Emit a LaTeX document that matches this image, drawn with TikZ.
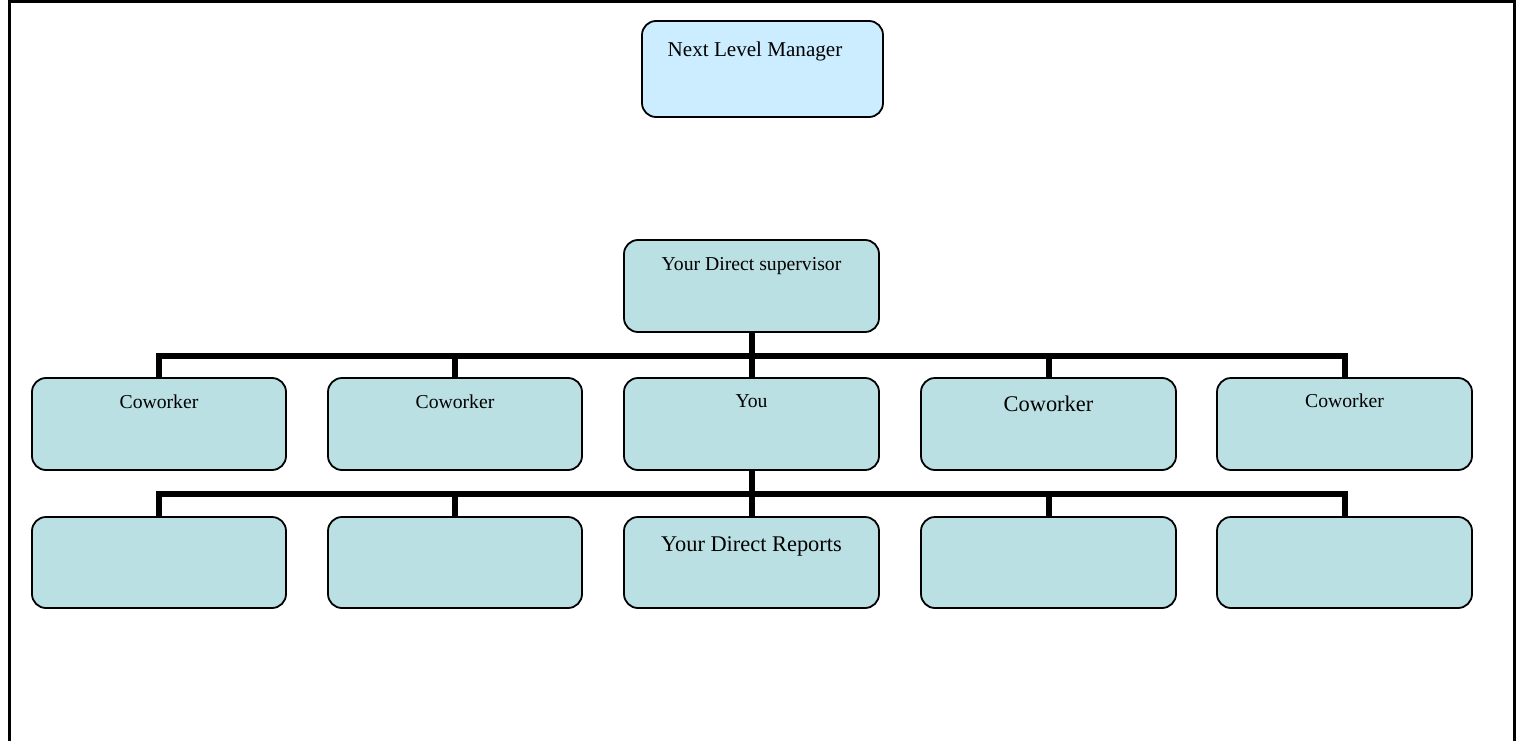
\documentclass[tikz,border=0pt]{standalone}
\usepackage{fontspec}
\setmainfont{Liberation Serif}
\definecolor{topfill}{HTML}{CCECFF}
\definecolor{boxfill}{HTML}{BBE0E3}
\begin{document}
\begin{tikzpicture}[x=1pt,y=-1pt,
  orgbox/.style={draw=black, line width=1.8pt, fill=boxfill, rounded corners=14pt,
    minimum width=254pt, minimum height=92pt, inner sep=0pt},
  toptext/.style={anchor=base, inner sep=0pt, font=\fontsize{19.7}{23}\selectfont},
  bigtext/.style={anchor=base, inner sep=0pt, font=\fontsize{22.4}{26}\selectfont},
  conn/.style={line width=6pt, line join=miter},
  frame/.style={line width=3pt}]
\useasboundingbox (0,0) rectangle (1520,741);
% outer frame (open at the bottom)
\draw[frame] (9,745) -- (9,1.5) -- (1514.5,1.5) -- (1514.5,745);

% boxes
\node[orgbox, fill=topfill, minimum width=241pt, minimum height=96pt] (nlm) at (762.5,69) {};
\node[orgbox, minimum width=255pt] (sup) at (751.5,286) {};
\node[orgbox] (c1) at (159,424) {};
\node[orgbox] (c2) at (455,424) {};
\node[orgbox, minimum width=255pt] (you) at (751.5,424) {};
\node[orgbox, minimum width=255pt] (c4) at (1048.5,424) {};
\node[orgbox, minimum width=255pt] (c5) at (1344.5,424) {};
\node[orgbox, minimum height=91pt] (r1) at (159,562.5) {};
\node[orgbox, minimum height=91pt] (r2) at (455,562.5) {};
\node[orgbox, minimum width=255pt, minimum height=91pt] (r3) at (751.5,562.5) {};
\node[orgbox, minimum width=255pt, minimum height=91pt] (r4) at (1048.5,562.5) {};
\node[orgbox, minimum width=255pt, minimum height=91pt] (r5) at (1344.5,562.5) {};

% texts
\node[toptext, font=\fontsize{21.1}{25}\selectfont] (tnlm) at ([xshift=-7.5pt,yshift=-36pt]nlm.north) {Next Level Manager};
\node[toptext] (tsup) at ([yshift=-31pt]sup.north) {Your Direct supervisor};
\node[toptext] (tc1) at ([yshift=-31pt]c1.north) {Coworker};
\node[toptext] (tc2) at ([yshift=-31pt]c2.north) {Coworker};
\node[toptext] (tyou) at ([yshift=-30pt]you.north) {You};
\node[bigtext] (tc4) at ([yshift=-34pt]c4.north) {Coworker};
\node[toptext] (tc5) at ([yshift=-30pt]c5.north) {Coworker};
\node[bigtext] (tr3) at ([yshift=-35pt]r3.north) {Your Direct Reports};

% connectors
\coordinate (bus1) at (751.5,356);
\coordinate (bus2) at (751.5,493.5);
\draw[conn] (sup.south) -- (you.north);
\draw[conn] (c1.north) |- (bus1) -| (c5.north);
\draw[conn] (c2.north) -- (c2.north |- bus1);
\draw[conn] (c4.north) -- (c4.north |- bus1);
\draw[conn] (you.south) -- (r3.north);
\draw[conn] (r1.north) |- (bus2) -| (r5.north);
\draw[conn] (r2.north) -- (r2.north |- bus2);
\draw[conn] (r4.north) -- (r4.north |- bus2);
\end{tikzpicture}
\end{document}
